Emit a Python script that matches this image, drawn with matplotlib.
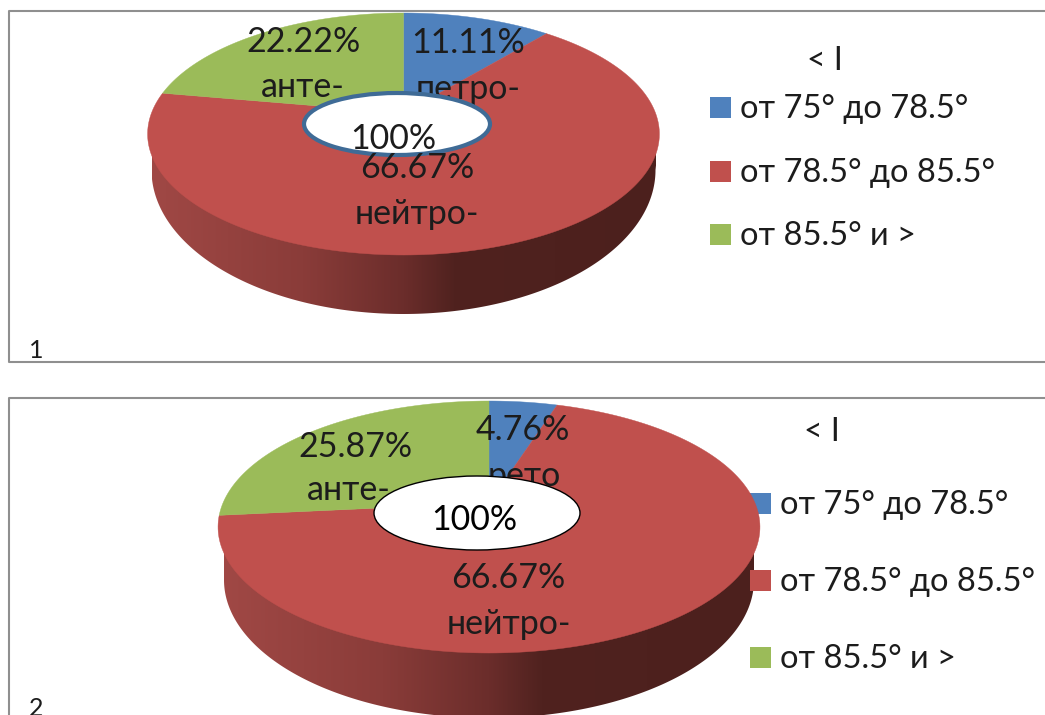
import numpy as np
import matplotlib
matplotlib.use("Agg")
import matplotlib.pyplot as plt
from matplotlib.colors import LinearSegmentedColormap
from matplotlib.patches import Ellipse, Polygon, Rectangle

plt.rcParams['font.family'] = ['Lato', 'Open Sans', 'DejaVu Sans']

# shares of each group, clockwise from the top of the pie
values1 = [11.11, 66.67, 22.22]
values2 = [4.76, 66.67, 25.87]
colors = ['#4f81bd', '#c0504d', '#9bbb59']
legend_labels = ['от 75° до 78.5°', 'от 78.5° до 85.5°', 'от 85.5° и >']
legend_title = '< I'
center_label = '100%'

wall_cmap = LinearSegmentedColormap.from_list(
    'wall', [(0, '#a04845'), (0.3, '#8a3c39'), (0.5, '#6b2d2b'), (0.6, '#50221f'), (1, '#4c201d')])
TEXT = '#1c1c1c'
FRAME = '#8f8f8f'
LABEL_SIZE = 24.5


def project(theta, cx, top, mid, bottom, k):
    # perspective view of a unit circle, theta measured clockwise from the far point
    u, v = np.sin(theta), np.cos(theta)
    c = (2 * mid - top - bottom) / (top - bottom)
    a = top * (1 + c) - mid
    w = c * v + 1
    return cx + k * u / w, (a * v + mid) / w


def draw_pie(ax, values, cx, top, mid, bottom, k, wall_cy, wall_rx, wall_ry):
    t = np.linspace(0, 2 * np.pi, 721)
    x_top, y_top = project(t, cx, top, mid, bottom, k)
    left = np.argmin(x_top)
    right = np.argmax(x_top)

    # side wall: lower edge of the base, up to the front edge of the top face
    s = np.linspace(np.pi, 0, 300)
    wall_x = cx + wall_rx * np.cos(s)
    wall_y = wall_cy + wall_ry * np.sin(s)
    outline = np.column_stack([
        np.r_[x_top[left], wall_x, x_top[right]],
        np.r_[y_top[left], wall_y, y_top[right]],
    ])
    clip = Polygon(outline, closed=True, transform=ax.transData, fc='none', ec='none')
    ax.add_patch(clip)
    gradient = np.linspace(0, 1, 256).reshape(1, -1)
    img = ax.imshow(gradient, cmap=wall_cmap, aspect='auto', zorder=1,
                    extent=(cx - wall_rx, cx + wall_rx, wall_cy + wall_ry, top))
    img.set_clip_path(clip)

    # top face, one wedge per value
    edges = np.r_[0, np.cumsum(values)] / np.sum(values) * 2 * np.pi
    for i, color in enumerate(colors):
        arc = np.linspace(edges[i], edges[i + 1], 200)
        xs, ys = project(arc, cx, top, mid, bottom, k)
        ax.fill(np.r_[cx, xs], np.r_[mid, ys], color=color, lw=0.3, zorder=2)


def draw_legend(ax, swatch_x, text_x, ys, title_x, title_y):
    ax.text(title_x, title_y, legend_title, fontsize=23, color=TEXT, ha='center', va='center')
    for y, color, label in zip(ys, colors, legend_labels):
        ax.add_patch(Rectangle((swatch_x, y - 10.5), 21, 21, fc=color, ec='none'))
        ax.text(text_x, y + 2, label, fontsize=23.5, color=TEXT, ha='left', va='center')


def label(ax, x, y, text, z=3, color=TEXT):
    ax.text(x, y, text, fontsize=LABEL_SIZE, color=color, ha='center', va='center', zorder=z)


fig = plt.figure(figsize=(10.45, 7.15), dpi=100)
ax = fig.add_axes([0, 0, 1, 1])

# panel frames
ax.plot([1045, 9, 9, 1045], [11, 11, 362, 362], color=FRAME, lw=1.5, zorder=0)
ax.plot([1045, 9, 9], [398, 398, 715], color=FRAME, lw=1.5, zorder=0)

# first chart
draw_pie(ax, values1, 403.5, 13, 113, 255, 252, 170, 252, 144)
ax.add_patch(Ellipse((397, 124), 186, 62, fc='white', ec='#3f6b96', lw=3, zorder=4))
label(ax, 303, 42, f'{values1[2]:.2f}%')
label(ax, 303, 87, 'анте-')
label(ax, 468, 43, f'{values1[0]:.2f}%')
label(ax, 468, 89, 'петро-')
label(ax, 417, 168, f'{values1[1]:.2f}%', z=5)
label(ax, 417, 214, 'нейтро-', z=5)
label(ax, 393, 139, center_label, z=5)
draw_legend(ax, 710, 740, [107, 171, 234], 825, 61)
ax.text(36, 350, '1', fontsize=18, color=TEXT, ha='center', va='center')

# second chart
draw_pie(ax, values2, 489, 401, 503, 653, 266, 580, 265, 138)
label(ax, 355, 447, f'{values2[2]:.2f}%')
label(ax, 349, 490, 'анте-')
label(ax, 523, 430, f'{values2[0]:.2f}%')
label(ax, 524, 476, 'рето')
ax.add_patch(Ellipse((477, 513), 206, 74, fc='white', ec='black', lw=1, zorder=4))
label(ax, 508, 578, f'{values2[1]:.2f}%', z=5)
label(ax, 509, 624, 'нейтро-', z=5)
label(ax, 474, 520, center_label, z=5, color='black')
draw_legend(ax, 750, 780, [503, 580, 657], 822, 432)
ax.text(36, 709, '2', fontsize=18, color=TEXT, ha='center', va='center')

ax.set_xlim(0, 1045)
ax.set_ylim(715, 0)
ax.axis('off')

fig.savefig('out.png', dpi=100)
